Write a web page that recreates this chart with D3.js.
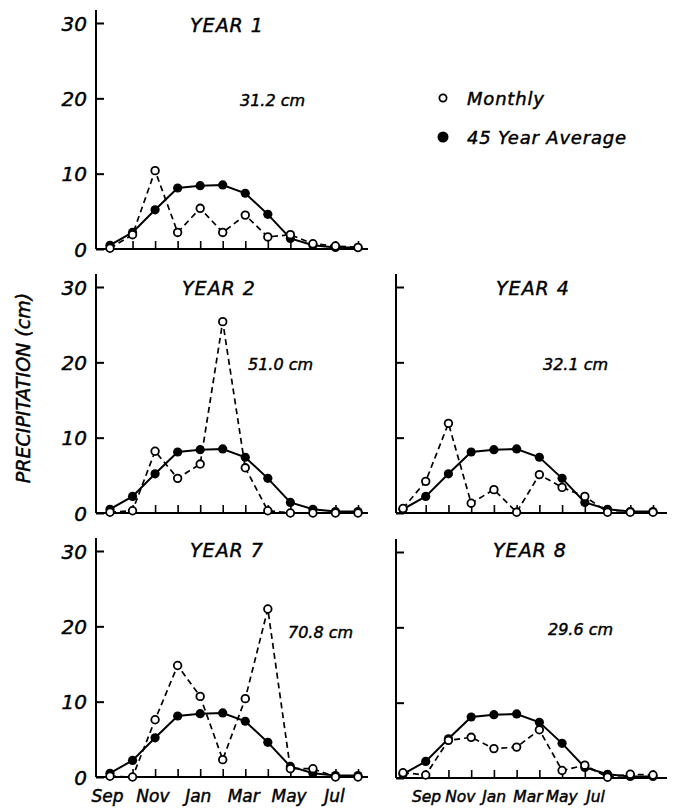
<!DOCTYPE html>
<html>
<head>
<meta charset="utf-8">
<script src="https://cdn.jsdelivr.net/npm/d3@7"></script>
<style>
  body { margin: 0; background: #fff; }
  svg text { font-family: "DejaVu Sans", sans-serif; font-style: italic; fill: #000; stroke: #000; stroke-width: 0.45px; }
</style>
</head>
<body>
<div id="chart"></div>
<script>
// months Sep..Aug (water year)
const months = ["Sep", "Oct", "Nov", "Dec", "Jan", "Feb", "Mar", "Apr", "May", "Jun", "Jul", "Aug"]
const monthLabels = ["Sep", "Nov", "Jan", "Mar", "May", "Jul"]
const yTicks = [0, 10, 20, 30]

const average45 = [0.5, 2.2, 5.2, 8.1, 8.4, 8.5, 7.4, 4.6, 1.4, 0.5, 0.2, 0.2]

const monthlyYear1 = [0.1, 1.9, 10.4, 2.2, 5.4, 2.2, 4.5, 1.6, 1.9, 0.7, 0.4, 0.2]
const monthlyYear2 = [0.1, 0.3, 8.2, 4.6, 6.5, 25.4, 6.0, 0.3, 0.0, 0.0, 0.0, 0.0]
const monthlyYear4 = [0.6, 4.2, 11.9, 1.3, 3.1, 0.1, 5.1, 3.4, 2.2, 0.1, 0.1, 0.1]
const monthlyYear7 = [0.1, 0.0, 7.6, 14.8, 10.7, 2.3, 10.4, 22.3, 1.1, 1.1, 0.0, 0.0]
const monthlyYear8 = [0.7, 0.4, 5.0, 5.4, 3.9, 4.1, 6.4, 1.0, 1.7, 0.1, 0.5, 0.4]

const panelTitles = ["YEAR 1", "YEAR 2", "YEAR 4", "YEAR 7", "YEAR 8"]
const panelTotals = ["31.2 cm", "51.0 cm", "32.1 cm", "70.8 cm", "29.6 cm"]
const legendLabels = ["Monthly", "45 Year Average"]

const width = 675, height = 809

// layout of each panel
const panels = [
    {title: 0, data: monthlyYear1, axisX: 96, axisEnd: 368, y0: 249, px: [110, 358], yLabels: true, xLabels: false, titleX: 227, titleY: 32, totX: 240, totY: 106},
    {title: 1, data: monthlyYear2, axisX: 96, axisEnd: 368, y0: 513, px: [110, 358], yLabels: true, xLabels: false, titleX: 219, titleY: 295, totX: 248, totY: 370},
    {title: 2, data: monthlyYear4, axisX: 396, axisEnd: 667, y0: 513, px: [403, 653], yLabels: false, xLabels: false, titleX: 533, titleY: 295, totX: 543, totY: 370},
    {title: 3, data: monthlyYear7, axisX: 96, axisEnd: 368, y0: 777, px: [110, 358], yLabels: true, xLabels: true, lx: [107, 334], lsize: 17, titleX: 227, titleY: 557, totX: 288, totY: 638},
    {title: 4, data: monthlyYear8, axisX: 396, axisEnd: 667, y0: 778, px: [403, 653], yLabels: false, xLabels: true, lx: [426, 595], lsize: 15.5, titleX: 530, titleY: 557, totX: 548, totY: 635}
]

const svg = d3.select("#chart")
    .append("svg")
    .attr("width", width)
    .attr("height", height)

panels.forEach(p => {
    const g = svg.append("g")

    const x = d3.scaleLinear().domain([0, months.length - 1]).range(p.px)
    const y = d3.scaleLinear().domain([0, 30]).range([p.y0, p.y0 - 226])

    // axis lines
    g.append("line")
        .attr("x1", p.axisX).attr("x2", p.axisX)
        .attr("y1", p.y0).attr("y2", y(30) - 13)
        .attr("stroke", "#000").attr("stroke-width", 2)
    g.append("line")
        .attr("x1", p.axisX).attr("x2", p.axisEnd)
        .attr("y1", p.y0).attr("y2", p.y0)
        .attr("stroke", "#000").attr("stroke-width", 2)

    // y ticks, pointing inward
    const yAxis = g.append("g")
        .attr("transform", `translate(${p.axisX},0)`)
        .call(d3.axisLeft(y).tickValues(yTicks).tickSizeInner(-8).tickSizeOuter(0).tickPadding(9)
            .tickFormat(p.yLabels ? d3.format("d") : ""))
    yAxis.select(".domain").remove()
    yAxis.selectAll("line").attr("stroke", "#000").attr("stroke-width", 2)
    yAxis.selectAll("text").attr("font-size", 20).attr("font-family", null).attr("dy", "0.36em")

    // month ticks, pointing up
    const xAxis = g.append("g")
        .attr("transform", `translate(0,${p.y0})`)
        .call(d3.axisBottom(x).tickValues(d3.range(1, months.length)).tickSizeInner(-8).tickSizeOuter(0).tickFormat(""))
    xAxis.select(".domain").remove()
    xAxis.selectAll("line").attr("stroke", "#000").attr("stroke-width", 1.6)

    if (p.xLabels) {
        const lx = d3.scalePoint().domain(monthLabels).range(p.lx)
        const labAxis = g.append("g")
            .attr("transform", `translate(0,${p.y0})`)
            .call(d3.axisBottom(lx).tickSize(0).tickPadding(13))
        labAxis.select(".domain").remove()
        labAxis.selectAll("text").attr("font-size", p.lsize).attr("font-family", null)
    }

    const line = d3.line().x((d, i) => x(i)).y(d => y(d))

    g.append("path")
        .datum(average45)
        .attr("d", line)
        .attr("fill", "none").attr("stroke", "#000").attr("stroke-width", 2)

    g.append("path")
        .datum(p.data)
        .attr("d", line)
        .attr("fill", "none").attr("stroke", "#000").attr("stroke-width", 1.7)
        .attr("stroke-dasharray", "6,4")

    g.selectAll("circle.avg")
        .data(average45)
        .enter()
        .append("circle")
            .classed("avg", true)
            .attr("cx", (d, i) => x(i))
            .attr("cy", d => y(d))
            .attr("r", 4.6)
            .attr("fill", "#000")

    g.selectAll("circle.mon")
        .data(p.data)
        .enter()
        .append("circle")
            .classed("mon", true)
            .attr("cx", (d, i) => x(i))
            .attr("cy", d => y(d))
            .attr("r", 3.8)
            .attr("fill", "#fff")
            .attr("stroke", "#000")
            .attr("stroke-width", 1.8)

    g.append("text")
        .attr("x", p.titleX).attr("y", p.titleY)
        .attr("text-anchor", "middle")
        .attr("font-size", 19)
        .attr("letter-spacing", 1)
        .text(panelTitles[p.title])

    g.append("text")
        .attr("x", p.totX).attr("y", p.totY)
        .attr("font-size", 16)
        .text(panelTotals[p.title])
})

// legend
const legend = svg.append("g")
legend.selectAll("circle")
    .data(legendLabels)
    .enter()
    .append("circle")
        .attr("cx", 443)
        .attr("cy", (d, i) => 98 + i * 39)
        .attr("r", (d, i) => i ? 4.6 : 3.6)
        .attr("fill", (d, i) => i ? "#000" : "#fff")
        .attr("stroke", "#000")
        .attr("stroke-width", 1.8)
legend.selectAll("text")
    .data(legendLabels)
    .enter()
    .append("text")
        .attr("x", 467)
        .attr("y", (d, i) => 105 + i * 39)
        .attr("font-size", 18)
        .attr("letter-spacing", 0.8)
        .text(d => d)

// y axis title
svg.append("text")
    .attr("transform", "translate(30,388) rotate(-90)")
    .attr("text-anchor", "middle")
    .attr("font-size", 19)
    .text("PRECIPITATION (cm)")
</script>
</body>
</html>
